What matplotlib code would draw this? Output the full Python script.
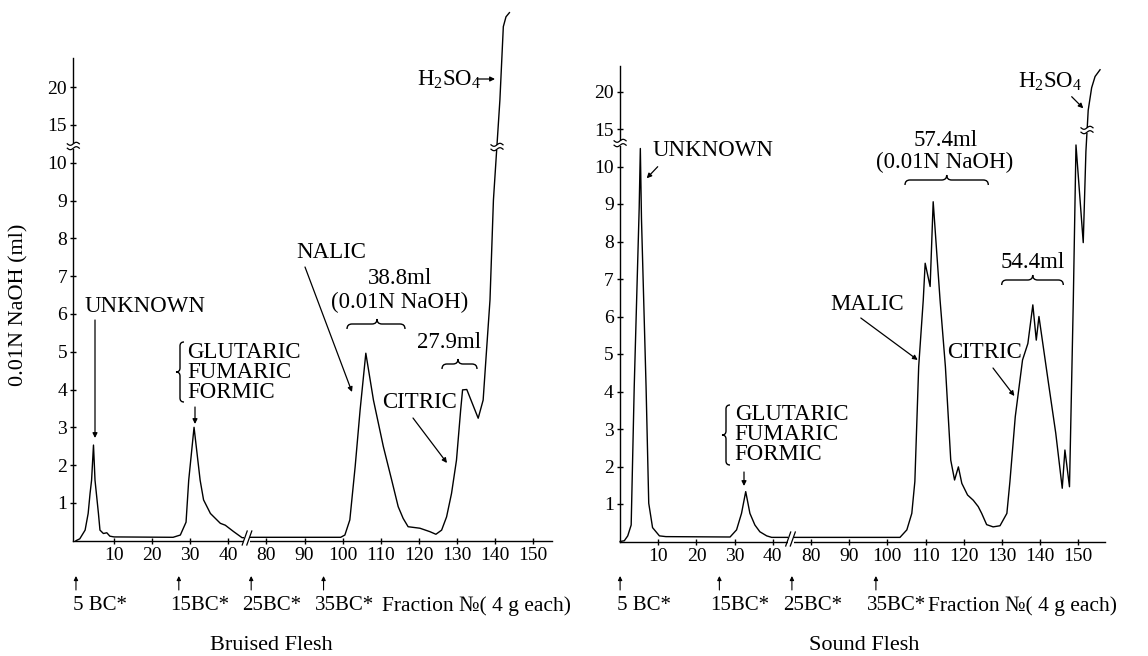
import numpy as np
import matplotlib
matplotlib.use("Agg")
import matplotlib.pyplot as plt
import matplotlib.transforms as mtransforms
from matplotlib.path import Path
from matplotlib.patches import PathPatch, Rectangle, FancyArrowPatch
from matplotlib.lines import Line2D

plt.rcParams['font.family'] = ['Liberation Serif', 'DejaVu Serif']
plt.rcParams['mathtext.fontset'] = 'custom'
plt.rcParams['mathtext.rm'] = 'Liberation Serif'
plt.rcParams['mathtext.it'] = 'Liberation Serif'

# ---------------- data: fraction No. vs 0.01N NaOH (ml)
bruised_x = [0, 1.0, 2.4, 3.2, 3.7, 4.1, 4.6, 5.0, 5.9, 6.3, 7.2, 8.1, 8.9, 10, 25.5, 27.4,
             28.9, 29.6, 31.0, 32.6, 33.5, 35.3, 37.9, 39.2, 41.4, 43.6, 45,
             75, 99.5, 100.6, 101.9, 103.3, 104.6, 106.1, 108.1, 110.7, 112.9, 114.6, 115.9,
             117.2, 120.3, 122.9, 124.5, 126.0, 127.3, 128.6, 129.9, 131.0, 131.5, 132.6,
             133.0, 135.6, 136.9, 137.8, 138.7, 139.6, 141.3, 142.2, 142.9, 143.8]
bruised_y = [0, 0.05, 0.28, 0.72, 1.25, 1.6, 2.53, 1.6, 0.72, 0.28, 0.19, 0.21, 0.12, 0.1, 0.09, 0.15,
             0.49, 1.6, 3.0, 1.6, 1.08, 0.72, 0.46, 0.41, 0.24, 0.08, 0.08,
             0.09, 0.09, 0.15, 0.55, 1.96, 3.46, 4.96, 3.72, 2.49, 1.6, 0.9, 0.59,
             0.37, 0.33, 0.24, 0.17, 0.28, 0.63, 1.25, 2.13, 3.46, 3.99, 4.0,
             3.9, 3.24, 3.72, 5.05, 6.37, 9.01, 18.3, 28.0, 29.3, 29.85]

sound_x = [0, 1.1, 2.0, 2.9, 3.7, 5.0, 5.3, 5.6, 6.8, 7.5, 8.5, 10.3, 12, 28.8, 30.5, 31.8,
           32.9, 34.0, 35.3, 36.6, 38.4, 39.7, 45,
           75, 103.3, 105.1, 106.4, 107.2, 108.2, 109.4, 109.9, 111.2, 112.0, 113.8, 115.2,
           116.6, 117.6, 118.6, 119.5, 121.0, 122.5, 123.8, 124.7, 126.0, 127.7, 129.5, 131.3,
           132.1, 133.5, 135.4, 136.8, 138.1, 139.0, 139.7, 142.2, 144.1, 145.8, 146.5, 147.7,
           148.7, 149.4, 151.3, 152.0, 152.6, 153.5, 154.4, 155.7]
sound_y = [0, 0.02, 0.15, 0.44, 4.13, 8.9, 12.4, 8.6, 4.13, 1.02, 0.37, 0.15, 0.13, 0.12, 0.31, 0.75,
           1.33, 0.75, 0.44, 0.26, 0.15, 0.11, 0.11,
           0.11, 0.11, 0.31, 0.75, 1.6, 4.66, 6.44, 7.42, 6.8, 9.06, 6.44, 4.66,
           2.17, 1.64, 1.99, 1.55, 1.24, 1.1, 0.93, 0.75, 0.45, 0.39, 0.42, 0.75,
           1.6, 3.33, 4.84, 5.28, 6.31, 5.37, 6.0, 4.22, 2.89, 1.42, 2.44, 1.46,
           6.44, 12.87, 7.97, 12.0, 17.5, 20.5, 22.0, 22.9]

x_ticks = [10, 20, 30, 40, 80, 90, 100, 110, 120, 130, 140, 150]
y_ticks = [1, 2, 3, 4, 5, 6, 7, 8, 9, 10, 15, 20]
bc_labels = ["5 BC*", "15BC*", "25BC*", "35BC*"]
bc_bruised = [0, 27, 76, 95]
bc_sound = [0, 26, 75, 97]


# broken axes: fractions 45-75 left out, above 10 ml compressed 5x
def fx(x):
    x = np.asarray(x, float)
    return np.where(x <= 45, x, np.where(x >= 75, x - 30, 45.0))


def fx_inv(x):
    x = np.asarray(x, float)
    return np.where(x <= 45, x, x + 30)


def fy(y):
    y = np.asarray(y, float)
    return np.where(y <= 10, y, 10 + (y - 10) / 5.0)


def fy_inv(y):
    y = np.asarray(y, float)
    return np.where(y <= 10, y, 10 + (y - 10) * 5.0)


W, H = 1148, 656
fig = plt.figure(figsize=(W / 100, H / 100), dpi=100)
px = mtransforms.Affine2D().scale(1.0 / W, -1.0 / H).translate(0, 1) + fig.transFigure

ax1 = fig.add_axes([73.3 / W, (H - 540.7) / H, (551.7 - 73.3) / W, (540.7 - 58) / H])
ax2 = fig.add_axes([620.1 / W, (H - 541.5) / H, (1105 - 620.1) / W, (541.5 - 66) / H])

for ax, xs, ys, xl, yl in [(ax1, bruised_x, bruised_y, (-0.7, 154.9), (0, 23.85)),
                           (ax2, sound_x, sound_y, (0, 157.0), (0, 23.4))]:
    ax.set_xscale('function', functions=(fx, fx_inv))
    ax.set_yscale('function', functions=(fy, fy_inv))
    ax.plot(xs, ys, color='black', lw=1.0, clip_on=False, zorder=3)
    ax.set_xlim(*xl)
    ax.set_ylim(*yl)
    ax.set_xticks(x_ticks)
    ax.set_xticklabels([str(t) for t in x_ticks])
    ax.set_yticks(y_ticks)
    ax.set_yticklabels([str(t) for t in y_ticks])
    ax.minorticks_off()
    ax.tick_params(direction='inout', length=5, width=1, labelsize=14, pad=2)
    for s in ['top', 'right']:
        ax.spines[s].set_visible(False)
    for s in ['left', 'bottom']:
        ax.spines[s].set_linewidth(1.0)
    ax.patch.set_alpha(0)


def hbrace(x0, x1, y, tip, h=5):
    v = [(x0, y + h), (x0, y), (x0 + h, y), (tip - h, y), (tip, y), (tip, y - h),
         (tip, y), (tip + h, y), (x1 - h, y), (x1, y), (x1, y + h)]
    c = [Path.MOVETO, Path.CURVE3, Path.CURVE3, Path.LINETO, Path.CURVE3, Path.CURVE3,
         Path.CURVE3, Path.CURVE3, Path.LINETO, Path.CURVE3, Path.CURVE3]
    fig.add_artist(PathPatch(Path(v, c), transform=px, fc='none', ec='k', lw=1))


def vbrace(x, y0, y1, w=4):
    ym = (y0 + y1) / 2
    v = [(x + w, y0), (x, y0), (x, y0 + w), (x, ym - w), (x, ym), (x - w, ym),
         (x, ym), (x, ym + w), (x, y1 - w), (x, y1), (x + w, y1)]
    c = [Path.MOVETO, Path.CURVE3, Path.CURVE3, Path.LINETO, Path.CURVE3, Path.CURVE3,
         Path.CURVE3, Path.CURVE3, Path.LINETO, Path.CURVE3, Path.CURVE3]
    fig.add_artist(PathPatch(Path(v, c), transform=px, fc='none', ec='k', lw=1))


def arrow(p0, p1, lw=0.9):
    fig.add_artist(FancyArrowPatch(p0, p1, transform=px, arrowstyle='-|>', mutation_scale=7,
                                   color='k', lw=lw, shrinkA=0, shrinkB=0))


def wave_break(cx, cy, w=6):
    fig.add_artist(Rectangle((cx - w, cy - 2.5), 2 * w, 5, transform=px, fc='white', ec='none', zorder=4))
    t = np.linspace(-1, 1, 25)
    for dy in (-2.2, 2.2):
        fig.add_artist(Line2D(cx + w * t, cy + dy - 1.5 * np.sin(np.pi * t), transform=px,
                              color='k', lw=0.9, zorder=5))


def slash_break(cx, cy):
    fig.add_artist(Rectangle((cx - 3, cy - 7), 6, 11, transform=px, fc='white', ec='none', zorder=4))
    for dx in (-2.3, 2.3):
        fig.add_artist(Line2D([cx + dx - 2.5, cx + dx + 2.5], [cy + 6, cy - 8], transform=px,
                              color='k', lw=0.9, zorder=5))


def label(x, y, s, ha='left', size=16.5):
    fig.text(x, y, s, transform=px, ha=ha, va='center', fontsize=size)


# axis / curve breaks
slash_break(247, 539)
slash_break(790.5, 540)
wave_break(73.3, 146)
wave_break(497, 147)
wave_break(620.1, 143)
wave_break(1087, 130)

# ---------------- Bruised Flesh annotations
label(85, 306, 'UNKNOWN')
arrow((95, 320), (95, 438))
for yy, s in zip([352, 372, 392], ['GLUTARIC', 'FUMARIC', 'FORMIC']):
    label(187.5, yy, s)
vbrace(180, 342, 402)
arrow((195, 407), (195, 424))
label(296, 253, 'NALIC')
arrow((305, 267), (352, 392))
label(400, 279, '38.8ml', ha='center')
label(400, 302, '(0.01N NaOH)', ha='center')
hbrace(347, 405, 324, 377)
label(449, 343, '27.9ml', ha='center')
hbrace(442, 477, 364, 458)
label(382, 403, 'CITRIC')
arrow((413, 418), (447, 463))
label(417, 80, r'H$_2$SO$_4$')
arrow((478, 79), (495, 79))

# ---------------- Sound Flesh annotations
label(653, 150, 'UNKNOWN')
arrow((657.7, 166.7), (646.7, 178.3))
for yy, s in zip([415, 435, 455], ['GLUTARIC', 'FUMARIC', 'FORMIC']):
    label(734.7, yy, s)
vbrace(726, 405, 465)
arrow((744, 472), (744, 486))
label(830, 305, 'MALIC')
arrow((860.8, 318), (917.7, 360))
label(946, 140, '57.4ml', ha='center')
label(945, 162, '(0.01N NaOH)', ha='center')
hbrace(905, 988.3, 180, 946.7)
label(1032.5, 263, '54.4ml', ha='center')
hbrace(1001.7, 1063.3, 280, 1032.7)
label(947, 352, 'CITRIC')
arrow((993, 368), (1014.4, 396))
label(1018, 82, r'H$_2$SO$_4$')
arrow((1071.7, 96.7), (1083.3, 108.3))

# ---------------- buffer change marks below the axes
for ax, pos, fr_x in [(ax1, bc_bruised, 382), (ax2, bc_sound, 928)]:
    tr = mtransforms.blended_transform_factory(ax.transData, px)
    for p, s in zip(pos, bc_labels):
        fig.add_artist(FancyArrowPatch((p, 590), (p, 576), transform=tr, arrowstyle='-|>',
                                       mutation_scale=6, color='k', lw=0.8, shrinkA=0, shrinkB=0))
        off = 3 if s.startswith('5 ') else 9
        tr_txt = mtransforms.offset_copy(tr, fig=fig, x=-off, y=0, units='dots')
        fig.text(p, 606, s, transform=tr_txt, ha='left', va='center', fontsize=15)
    fig.text(fr_x, 606, 'Fraction №( 4 g each)', transform=px, ha='left', va='center', fontsize=15.5)

fig.text(18.5, 304.5, '0.01N NaOH (ml)', transform=px, rotation=90, ha='center', va='center', fontsize=16)
fig.text(271, 645, 'Bruised Flesh', transform=px, ha='center', va='center', fontsize=16)
fig.text(864, 645, 'Sound Flesh', transform=px, ha='center', va='center', fontsize=16)

fig.savefig('out.png', dpi=100)
